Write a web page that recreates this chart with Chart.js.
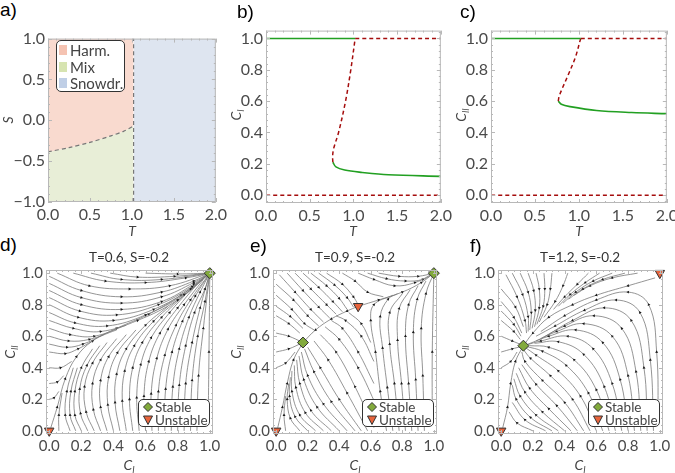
<!DOCTYPE html>
<html>
<head>
<meta charset="utf-8">
<script src="https://cdn.jsdelivr.net/npm/chart.js@4"></script>
<style>
  body { margin: 0; width: 675px; height: 473px; overflow: hidden; background: #fff; position: relative; font-family: Lato, sans-serif; color: #444; }
  canvas { position: absolute; }
  .pl { position: absolute; font-family: "Liberation Sans", Arial, sans-serif; font-size: 19px; line-height: 1; color: #000; }
  .ax { position: absolute; font-family: Lato, sans-serif; font-style: italic; font-size: 14px; line-height: 1; color: #444; white-space: nowrap; transform: translate(-50%, -50%); }
  .ax.v { transform: translate(-50%, -50%) rotate(-90deg); }
  .ax sub { font-size: 9px; vertical-align: -3px; }
  .tt { position: absolute; font-size: 13.5px; line-height: 1; color: #333; white-space: nowrap; transform: translateX(-50%); }
  .lg { position: absolute; border: 1px solid #333; border-radius: 5px; background: #fff; box-sizing: border-box; color: #444; }
  .lg div { display: flex; align-items: center; white-space: nowrap; }
  .sw { display: inline-block; width: 8px; height: 10px; margin-right: 3px; }
</style>
</head>
<body>
<canvas id="pa"></canvas>
<canvas id="pb"></canvas>
<canvas id="pc"></canvas>
<canvas id="pd"></canvas>
<canvas id="pe"></canvas>
<canvas id="pf"></canvas>

<div class="pl" style="left:0px;top:0px">a)</div>
<div class="pl" style="left:237px;top:2px">b)</div>
<div class="pl" style="left:460px;top:2px">c)</div>
<div class="pl" style="left:0px;top:235px">d)</div>
<div class="pl" style="left:250px;top:236px">e)</div>
<div class="pl" style="left:470px;top:236px">f)</div>

<div class="ax v" style="left:8px;top:120px">S</div>
<div class="ax" style="left:132px;top:231px">T</div>
<div class="ax v" style="left:237px;top:115px">C<sub>I</sub></div>
<div class="ax" style="left:353px;top:231px">T</div>
<div class="ax v" style="left:462px;top:115px">C<sub>II</sub></div>
<div class="ax" style="left:579px;top:231px">T</div>
<div class="ax v" style="left:11px;top:352px">C<sub>II</sub></div>
<div class="ax" style="left:129px;top:466px">C<sub>I</sub></div>
<div class="ax v" style="left:237px;top:352px">C<sub>II</sub></div>
<div class="ax" style="left:355px;top:466px">C<sub>I</sub></div>
<div class="ax v" style="left:462px;top:352px">C<sub>II</sub></div>
<div class="ax" style="left:580px;top:466px">C<sub>I</sub></div>

<div class="tt" style="left:129px;top:251px">T=0.6, S=-0.2</div>
<div class="tt" style="left:355px;top:251px">T=0.9, S=-0.2</div>
<div class="tt" style="left:580px;top:251px">T=1.2, S=-0.2</div>

<div class="lg" style="left:56px;top:40px;width:69px;height:52px;padding:1px 0 0 2px;font-size:15px;line-height:16.5px">
  <div><span class="sw" style="background:#f5c3b2"></span>Harm.</div>
  <div><span class="sw" style="background:#d7e4b1"></span>Mix</div>
  <div><span class="sw" style="background:#c0cfe6"></span>Snowdr.</div>
</div>

<script>
// tick values
const tTicks = [0, 0.5, 1, 1.5, 2];
const sTicks = [-1, -0.5, 0, 0.5, 1];
const cTicks = [0, 0.2, 0.4, 0.6, 0.8, 1];

// a) region boundaries
const tCrit = 1.02;
const boundT = [0, 0.25, 0.5, 0.75, 0.9, 1.02];
const boundS = [-0.385, -0.335, -0.27, -0.19, -0.135, -0.07];

// b) fixed points of C_I vs T
const bUnstT = [0.765, 0.762, 0.775, 0.83, 0.91, 0.97, 1.02];
const bUnstC = [0.21, 0.25, 0.30, 0.40, 0.60, 0.80, 1.0];
const bStabT = [0.765, 0.8, 0.9, 1.1, 1.4, 2.0];
const bStabC = [0.21, 0.18, 0.16, 0.145, 0.13, 0.12];

// c) fixed points of C_II vs T
const cUnstT = [0.765, 0.775, 0.81, 0.88, 0.96, 1.02];
const cUnstC = [0.60, 0.63, 0.68, 0.77, 0.88, 1.0];
const cStabT = [0.765, 0.8, 0.9, 1.2, 1.6, 2.0];
const cStabC = [0.60, 0.58, 0.565, 0.54, 0.527, 0.52];

// d) T=0.6 streamlines
const streamsD = [
  [[0.05,1.0],[0.25,0.92],[0.5,0.9],[0.75,0.92],[1,1]],
  [[0.15,1.0],[0.35,0.95],[0.6,0.94],[0.85,0.97],[1,1]],
  [[0.26,1.0],[0.45,0.96],[0.7,0.96],[1,1]],
  [[0.38,1.0],[0.55,0.975],[0.78,0.98],[1,1]],
  [[0.6,1.0],[0.8,0.995],[1,1]],
  [[0.0,0.98],[0.2,0.89],[0.45,0.85],[0.7,0.88],[0.9,0.95],[1,1]],
  [[0.0,0.935],[0.2,0.845],[0.45,0.81],[0.7,0.85],[0.9,0.94],[1,1]],
  [[0.0,0.89],[0.2,0.8],[0.45,0.77],[0.7,0.82],[0.9,0.93],[1,1]],
  [[0.0,0.845],[0.19,0.76],[0.42,0.735],[0.68,0.8],[0.89,0.915],[1,1]],
  [[0.0,0.8],[0.18,0.72],[0.4,0.7],[0.65,0.77],[0.88,0.9],[1,1]],
  [[0.0,0.75],[0.16,0.685],[0.36,0.665],[0.6,0.735],[0.84,0.865],[1,1]],
  [[0.0,0.7],[0.15,0.65],[0.32,0.63],[0.55,0.7],[0.8,0.83],[1,1]],
  [[0.0,0.65],[0.13,0.61],[0.28,0.6],[0.48,0.67]],
  [[0.0,0.6],[0.12,0.57],[0.25,0.58],[0.42,0.64]],
  [[0.0,0.55],[0.11,0.53],[0.21,0.55],[0.34,0.61]],
  [[0.0,0.5],[0.1,0.49],[0.18,0.52],[0.27,0.57]],
  [[0.0,0.4],[0.07,0.4],[0.14,0.44]],
  [[0.0,0.3],[0.05,0.31],[0.09,0.35]],
  [[0.0,0.2],[0.03,0.21],[0.06,0.25]],
  [[0.01,0.02],[0.05,0.15],[0.1,0.33],[0.17,0.47],[0.27,0.57],[0.42,0.65],[0.62,0.74],[0.82,0.86],[1,1]],
  [[0.06,0.0],[0.06,0.1],[0.08,0.24]],
  [[0.13,0.0],[0.1,0.1],[0.11,0.25],[0.15,0.4]],
  [[0.165,0.0],[0.13,0.1],[0.135,0.25],[0.175,0.4]],
  [[0.2,0.0],[0.16,0.1],[0.16,0.25],[0.2,0.4],[0.27,0.52]],
  [[0.24,0.0],[0.195,0.11],[0.19,0.265],[0.235,0.415],[0.315,0.54]],
  [[0.28,0.0],[0.23,0.12],[0.22,0.28],[0.27,0.43],[0.36,0.56]],
  [[0.32,0.0],[0.275,0.135],[0.27,0.3],[0.32,0.45],[0.42,0.585]],
  [[0.36,0.0],[0.32,0.15],[0.32,0.32],[0.37,0.47],[0.48,0.61]],
  [[0.4,0.0],[0.365,0.165],[0.37,0.34],[0.425,0.495],[0.54,0.64]],
  [[0.44,0.0],[0.41,0.18],[0.42,0.36],[0.48,0.52],[0.6,0.67],[0.74,0.79]],
  [[0.48,0.0],[0.455,0.19],[0.47,0.38],[0.53,0.54],[0.65,0.695],[0.8,0.83]],
  [[0.52,0.0],[0.5,0.2],[0.52,0.4],[0.58,0.56],[0.7,0.72],[0.85,0.87]],
  [[0.56,0.0],[0.545,0.21],[0.57,0.42],[0.635,0.59],[0.75,0.75],[0.88,0.9]],
  [[0.6,0.0],[0.59,0.22],[0.62,0.44],[0.69,0.62],[0.8,0.78],[0.92,0.93]],
  [[0.64,0.0],[0.635,0.235],[0.67,0.46],[0.74,0.645],[0.84,0.8],[0.96,0.96]],
  [[0.68,0.0],[0.68,0.25],[0.72,0.48],[0.79,0.67],[0.88,0.83],[1,1]],
  [[0.72,0.0],[0.725,0.265],[0.765,0.5],[0.83,0.695],[0.91,0.855],[1,1]],
  [[0.76,0.0],[0.77,0.28],[0.81,0.52],[0.87,0.72],[0.94,0.88],[1,1]],
  [[0.8,0.0],[0.81,0.29],[0.85,0.54],[0.905,0.75],[0.97,0.9],[1,1]],
  [[0.84,0.0],[0.85,0.3],[0.89,0.56],[0.94,0.78],[1,1]],
  [[0.88,0.0],[0.89,0.32],[0.925,0.6],[0.97,0.82],[1,1]],
  [[0.92,0.0],[0.93,0.35],[0.96,0.65],[1,1]],
  [[0.99,0.05],[0.995,0.5],[1,1]]
];
const stableD = [[1, 1]];
const unstableD = [[0, 0]];

// e) T=0.9 streamlines
const streamsE = [
  [[0.52,0.79],[0.45,0.76],[0.35,0.71],[0.25,0.64],[0.17,0.56]],
  [[0.52,0.79],[0.65,0.83],[0.8,0.88],[0.92,0.94],[1,1]],
  [[0.01,0.02],[0.04,0.15],[0.07,0.3],[0.11,0.45],[0.17,0.56]],
  [[0.0,0.4],[0.06,0.43],[0.12,0.5]],
  [[0.0,0.5],[0.08,0.52],[0.16,0.555]],
  [[0.0,0.62],[0.08,0.6],[0.16,0.565]],
  [[0.0,0.73],[0.08,0.68],[0.15,0.62]],
  [[0.0,0.79],[0.09,0.725],[0.17,0.65]],
  [[0.0,0.86],[0.1,0.77],[0.18,0.68],[0.24,0.64]],
  [[0.0,0.93],[0.11,0.83],[0.2,0.73],[0.27,0.665]],
  [[0.02,0.99],[0.12,0.88],[0.22,0.77],[0.3,0.69]],
  [[0.07,1.0],[0.17,0.89],[0.27,0.785],[0.34,0.715]],
  [[0.12,1.0],[0.22,0.9],[0.32,0.8],[0.38,0.74]],
  [[0.17,1.0],[0.27,0.91],[0.36,0.82],[0.42,0.755]],
  [[0.22,1.0],[0.32,0.92],[0.4,0.84],[0.45,0.77]],
  [[0.27,1.0],[0.37,0.925],[0.45,0.845],[0.49,0.785]],
  [[0.32,1.0],[0.42,0.93],[0.49,0.85],[0.52,0.8]],
  [[0.42,1.0],[0.5,0.95],[0.58,0.88],[0.68,0.85]],
  [[0.52,1.0],[0.62,0.96],[0.75,0.92],[0.88,0.94],[1,1]],
  [[0.58,1.0],[0.7,0.965],[0.82,0.95],[0.93,0.96],[1,1]],
  [[0.65,1.0],[0.78,0.98],[0.9,0.98],[1,1]],
  [[0.7,0.0],[0.66,0.25],[0.63,0.5],[0.6,0.7],[0.62,0.8],[0.74,0.86]],
  [[0.74,0.0],[0.705,0.275],[0.675,0.525],[0.66,0.725],[0.71,0.835],[0.77,0.87]],
  [[0.78,0.0],[0.75,0.3],[0.72,0.55],[0.72,0.75],[0.8,0.87]],
  [[0.82,0.0],[0.795,0.3],[0.77,0.575],[0.78,0.775],[0.85,0.895]],
  [[0.86,0.0],[0.84,0.3],[0.82,0.6],[0.84,0.8],[0.9,0.92]],
  [[0.9,0.0],[0.885,0.325],[0.87,0.625],[0.895,0.835],[0.95,0.95]],
  [[0.94,0.0],[0.93,0.35],[0.92,0.65],[0.95,0.87],[1,1]],
  [[0.99,0.05],[0.99,0.5],[1,1]],
  [[0.06,0.0],[0.05,0.1],[0.06,0.22]],
  [[0.15,0.0],[0.09,0.08],[0.07,0.2],[0.08,0.3]],
  [[0.2,0.0],[0.12,0.09],[0.085,0.22],[0.09,0.34]],
  [[0.25,0.0],[0.15,0.1],[0.1,0.25],[0.1,0.38]],
  [[0.3,0.0],[0.185,0.115],[0.125,0.275],[0.115,0.415]],
  [[0.35,0.0],[0.22,0.13],[0.15,0.3],[0.13,0.45]],
  [[0.4,0.0],[0.26,0.15],[0.175,0.325],[0.145,0.475]],
  [[0.45,0.0],[0.3,0.17],[0.2,0.35],[0.16,0.5]],
  [[0.5,0.0],[0.35,0.185],[0.24,0.375],[0.18,0.52]],
  [[0.54,0.0],[0.4,0.2],[0.28,0.4],[0.2,0.53]],
  [[0.58,0.0],[0.45,0.24],[0.33,0.45],[0.24,0.57]],
  [[0.62,0.02],[0.5,0.28],[0.38,0.5],[0.28,0.61]],
  [[0.64,0.15],[0.52,0.4],[0.4,0.58],[0.31,0.66]],
  [[0.62,0.3],[0.52,0.5],[0.42,0.65],[0.35,0.7]],
  [[0.62,0.44],[0.54,0.6],[0.44,0.7],[0.38,0.73]],
  [[0.6,0.56],[0.54,0.68],[0.46,0.75]]
];
const stableE = [[0.17, 0.56], [1, 1]];
const unstableE = [[0, 0], [0.52, 0.79]];

// f) T=1.2 streamlines
const streamsF = [
  [[0.97,0.97],[0.8,0.92],[0.6,0.86],[0.45,0.8],[0.3,0.72],[0.2,0.62],[0.14,0.54]],
  [[0.01,0.02],[0.04,0.15],[0.06,0.3],[0.09,0.44],[0.14,0.54]],
  [[0.0,0.4],[0.06,0.44],[0.1,0.5]],
  [[0.0,0.5],[0.07,0.52],[0.13,0.535]],
  [[0.0,0.6],[0.07,0.57],[0.13,0.545]],
  [[0.0,0.7],[0.08,0.63],[0.12,0.58]],
  [[0.0,0.76],[0.08,0.675],[0.125,0.6]],
  [[0.0,0.82],[0.08,0.72],[0.13,0.62]],
  [[0.0,0.9],[0.09,0.785],[0.14,0.66]],
  [[0.03,0.99],[0.1,0.85],[0.15,0.7],[0.16,0.62]],
  [[0.07,1.0],[0.135,0.865],[0.17,0.725],[0.17,0.63]],
  [[0.12,1.0],[0.17,0.88],[0.19,0.75],[0.18,0.64]],
  [[0.17,1.0],[0.205,0.89],[0.215,0.765],[0.195,0.65]],
  [[0.22,1.0],[0.24,0.9],[0.24,0.78],[0.21,0.66]],
  [[0.27,1.0],[0.275,0.9],[0.265,0.79],[0.225,0.675]],
  [[0.32,1.0],[0.31,0.9],[0.29,0.8],[0.24,0.69]],
  [[0.42,1.0],[0.39,0.92],[0.34,0.82],[0.27,0.72]],
  [[0.55,1.0],[0.48,0.93],[0.4,0.85],[0.33,0.77]],
  [[0.62,1.0],[0.53,0.94],[0.435,0.865],[0.36,0.79]],
  [[0.7,1.0],[0.58,0.95],[0.47,0.88],[0.39,0.81]],
  [[0.78,1.0],[0.64,0.96],[0.515,0.9],[0.425,0.835]],
  [[0.86,1.0],[0.7,0.97],[0.56,0.92],[0.46,0.86]],
  [[0.99,0.05],[0.98,0.5],[0.93,0.8],[0.8,0.88],[0.6,0.83],[0.4,0.73],[0.25,0.63]],
  [[0.96,0.0],[0.94,0.45],[0.875,0.75],[0.725,0.83],[0.525,0.765],[0.34,0.665],[0.22,0.6]],
  [[0.92,0.0],[0.9,0.4],[0.82,0.7],[0.65,0.78],[0.45,0.7],[0.28,0.6]],
  [[0.88,0.0],[0.85,0.375],[0.76,0.65],[0.585,0.73],[0.4,0.665],[0.25,0.585]],
  [[0.84,0.0],[0.8,0.35],[0.7,0.6],[0.52,0.68],[0.35,0.63],[0.22,0.57]],
  [[0.8,0.0],[0.75,0.325],[0.64,0.56],[0.47,0.64],[0.3,0.6],[0.17,0.55]],
  [[0.76,0.0],[0.7,0.3],[0.58,0.52],[0.42,0.6],[0.25,0.57],[0.16,0.545]],
  [[0.72,0.0],[0.65,0.28],[0.52,0.485],[0.36,0.565],[0.21,0.555]],
  [[0.68,0.0],[0.6,0.26],[0.46,0.45],[0.3,0.53],[0.18,0.54]],
  [[0.64,0.0],[0.55,0.24],[0.41,0.415],[0.26,0.505],[0.16,0.535]],
  [[0.6,0.0],[0.5,0.22],[0.36,0.38],[0.22,0.48],[0.15,0.53]],
  [[0.56,0.0],[0.45,0.2],[0.31,0.35],[0.185,0.46],[0.14,0.515]],
  [[0.52,0.0],[0.4,0.18],[0.26,0.32],[0.15,0.44],[0.13,0.5]],
  [[0.48,0.0],[0.35,0.16],[0.22,0.295],[0.13,0.42]],
  [[0.44,0.0],[0.3,0.14],[0.18,0.27],[0.11,0.4]],
  [[0.4,0.0],[0.26,0.12],[0.15,0.245],[0.095,0.365]],
  [[0.36,0.0],[0.22,0.1],[0.12,0.22],[0.08,0.33]],
  [[0.32,0.0],[0.185,0.085],[0.095,0.2],[0.07,0.29]],
  [[0.28,0.0],[0.15,0.07],[0.07,0.18]],
  [[0.2,0.0],[0.1,0.05],[0.05,0.12]]
];
const stableF = [[0.14, 0.54]];
const unstableF = [[0, 0], [1, 1]];

const GREEN = '#22a022';
const RED = '#a50d0d';
const fmt = v => v.toFixed(1).replace('-', '\u2212');
const pts = (xs, ys) => xs.map((x, i) => ({ x: x, y: ys[i] }));
const pairs = arr => arr.map(p => ({ x: p[0], y: p[1] }));

// frame with inward major/minor ticks, Mathematica style
const frameTicks = {
  id: 'frameTicks',
  afterDraw(chart, args, opts) {
    const { ctx, chartArea: a, scales } = chart;
    ctx.save();
    ctx.strokeStyle = '#b8b8b8';
    ctx.lineWidth = 1;
    ctx.strokeRect(a.left + 0.5, a.top + 0.5, a.right - a.left - 1, a.bottom - a.top - 1);
    const marks = (ticks, scale) => {
      const out = [];
      const step = (ticks[1] - ticks[0]) / 5;
      for (let v = ticks[0] - 5 * step; v <= ticks[ticks.length - 1] + 5 * step + 1e-9; v += step) {
        if (v < scale.min - 1e-9 || v > scale.max + 1e-9) continue;
        const k = Math.round((v - ticks[0]) / step);
        out.push({ v: v, len: k % 5 === 0 ? 4 : 2 });
      }
      return out;
    };
    ctx.beginPath();
    marks(opts.x, scales.x).forEach(m => {
      const px = Math.round(scales.x.getPixelForValue(m.v)) + 0.5;
      ctx.moveTo(px, a.bottom); ctx.lineTo(px, a.bottom - m.len);
      ctx.moveTo(px, a.top); ctx.lineTo(px, a.top + m.len);
    });
    marks(opts.y, scales.y).forEach(m => {
      const py = Math.round(scales.y.getPixelForValue(m.v)) + 0.5;
      ctx.moveTo(a.left, py); ctx.lineTo(a.left + m.len, py);
      ctx.moveTo(a.right, py); ctx.lineTo(a.right - m.len, py);
    });
    ctx.stroke();
    ctx.restore();
  }
};

function makePanel(id, rect, xr, yr, xt, yt, fontSize, datasets) {
  const c = document.getElementById(id);
  const padT = 10, padR = 14, yw = 48, xh = 24;
  c.width = rect.r - rect.l + yw + padR;
  c.height = rect.b - rect.t + padT + xh;
  c.style.left = (rect.l - yw) + 'px';
  c.style.top = (rect.t - padT) + 'px';
  const tickOpts = { padding: 3, color: '#4a4a4a', autoSkip: false, maxRotation: 0, font: { family: 'Lato', size: fontSize }, callback: fmt };
  return new Chart(c, {
    type: 'line',
    data: { datasets: datasets },
    options: {
      responsive: false,
      animation: false,
      events: [],
      layout: { padding: { top: padT, right: padR, left: 0, bottom: 0 } },
      plugins: { legend: { display: false }, tooltip: { enabled: false }, frameTicks: { x: xt, y: yt } },
      scales: {
        x: {
          type: 'linear', min: xr[0], max: xr[1],
          afterBuildTicks: s => { s.ticks = xt.map(v => ({ value: v })); },
          afterFit: s => { s.height = xh; },
          grid: { display: false, drawTicks: false }, border: { display: false },
          ticks: tickOpts
        },
        y: {
          type: 'linear', min: yr[0], max: yr[1],
          afterBuildTicks: s => { s.ticks = yt.map(v => ({ value: v })); },
          afterFit: s => { s.width = yw; },
          grid: { display: false, drawTicks: false }, border: { display: false },
          ticks: tickOpts
        }
      }
    },
    plugins: [frameTicks]
  });
}

function line(data, color, width, dash, extra) {
  return Object.assign({
    data: data, borderColor: color, borderWidth: width, borderDash: dash || [],
    pointRadius: 0, fill: false, tension: 0.35, order: 1
  }, extra || {});
}

// arrow heads sit on the interior vertices of each streamline, pointing along it
function arrowRot(ctx) {
  const d = ctx.dataset.data, i = ctx.dataIndex;
  const a = d[Math.max(i - 1, 0)], b = d[Math.min(i + 1, d.length - 1)];
  const sx = ctx.chart.scales.x, sy = ctx.chart.scales.y;
  const dx = sx.getPixelForValue(b.x) - sx.getPixelForValue(a.x);
  const dy = sy.getPixelForValue(b.y) - sy.getPixelForValue(a.y);
  return Math.atan2(dx, -dy) * 180 / Math.PI;
}

function streamSets(streams, stable, unstable) {
  const sets = streams.map(s => ({
    data: pairs(s), borderColor: '#7a7a7a', borderWidth: 0.8, tension: 0.4, fill: false,
    pointStyle: 'triangle', pointBackgroundColor: '#1a1a1a', pointBorderWidth: 0,
    pointRadius: ctx => (ctx.dataIndex === 0 || ctx.dataIndex === s.length - 1) ? 0 : 1.7,
    pointRotation: arrowRot, order: 2
  }));
  sets.push({
    data: pairs(stable), showLine: false, pointStyle: 'rectRot', pointRadius: 5.5,
    pointBackgroundColor: '#82aa3c', pointBorderColor: '#333', pointBorderWidth: 1, clip: false, order: 0
  });
  sets.push({
    data: pairs(unstable), showLine: false, pointStyle: 'triangle', pointRotation: 180, pointRadius: 5.5,
    pointBackgroundColor: '#e8643c', pointBorderColor: '#333', pointBorderWidth: 1, clip: false, order: 0
  });
  return sets;
}

// a)
makePanel('pa', { l: 48, t: 36, r: 216, b: 202 }, [0, 2], [-1, 1], tTicks, sTicks, 16, [
  { data: boundT.map(t => ({ x: t, y: 1 })), borderWidth: 0, pointRadius: 0, fill: '+1', backgroundColor: '#f9dacf', order: 3 },
  { data: pts(boundT, boundS), borderWidth: 0, pointRadius: 0, tension: 0.3, fill: { value: -1 }, backgroundColor: '#e8eed7', order: 4 },
  { data: [{ x: tCrit, y: 1 }, { x: 2, y: 1 }], borderWidth: 0, pointRadius: 0, fill: { value: -1 }, backgroundColor: '#dee5f0', order: 3 },
  line(pts(boundT, boundS), '#777', 1.2, [4, 3], { tension: 0.3 }),
  line([{ x: tCrit, y: -1 }, { x: tCrit, y: 1 }], '#777', 1.2, [4, 3])
]);

// b)
makePanel('pb', { l: 266, t: 28, r: 441, b: 203 }, [0, 2], [-0.05, 1.05], tTicks, cTicks, 16, [
  line([{ x: 0, y: 1 }, { x: tCrit, y: 1 }], GREEN, 1.6),
  line([{ x: tCrit, y: 1 }, { x: 2, y: 1 }], RED, 1.5, [4, 3]),
  line([{ x: 0, y: 0 }, { x: 2, y: 0 }], RED, 1.5, [4, 3]),
  line(pts(bUnstT, bUnstC), RED, 1.5, [4, 3]),
  line(pts(bStabT, bStabC), GREEN, 1.6)
]);

// c)
makePanel('pc', { l: 491, t: 28, r: 667, b: 203 }, [0, 2], [-0.05, 1.05], tTicks, cTicks, 16, [
  line([{ x: 0, y: 1 }, { x: tCrit, y: 1 }], GREEN, 1.6),
  line([{ x: tCrit, y: 1 }, { x: 2, y: 1 }], RED, 1.5, [4, 3]),
  line([{ x: 0, y: 0 }, { x: 2, y: 0 }], RED, 1.5, [4, 3]),
  line(pts(cUnstT, cUnstC), RED, 1.5, [4, 3]),
  line(pts(cStabT, cStabC), GREEN, 1.6)
]);

// d) e) f)
makePanel('pd', { l: 46, t: 268, r: 213, b: 434 }, [-0.02, 1.02], [-0.02, 1.02], cTicks, cTicks, 15, streamSets(streamsD, stableD, unstableD));
makePanel('pe', { l: 273, t: 268, r: 437, b: 434 }, [-0.02, 1.02], [-0.02, 1.02], cTicks, cTicks, 15, streamSets(streamsE, stableE, unstableE));
makePanel('pf', { l: 498, t: 268, r: 663, b: 434 }, [-0.02, 1.02], [-0.02, 1.02], cTicks, cTicks, 15, streamSets(streamsF, stableF, unstableF));

// legends for the phase portraits
[213, 437, 663].forEach(r => {
  const lg = document.createElement('div');
  lg.className = 'lg';
  lg.style.cssText = 'left:' + (r - 75) + 'px;top:399px;width:72px;height:28px;padding:1px 0 0 4px;font-size:13.5px;line-height:12.5px';
  lg.innerHTML =
    '<div><svg width="10" height="10" style="margin-right:2px"><polygon points="5,0.5 9.5,5 5,9.5 0.5,5" fill="#82aa3c" stroke="#333" stroke-width="1"/></svg>Stable</div>' +
    '<div><svg width="10" height="10" style="margin-right:2px"><polygon points="0.5,1 9.5,1 5,9.5" fill="#e8643c" stroke="#333" stroke-width="1"/></svg>Unstable</div>';
  document.body.appendChild(lg);
});
</script>
</body>
</html>
